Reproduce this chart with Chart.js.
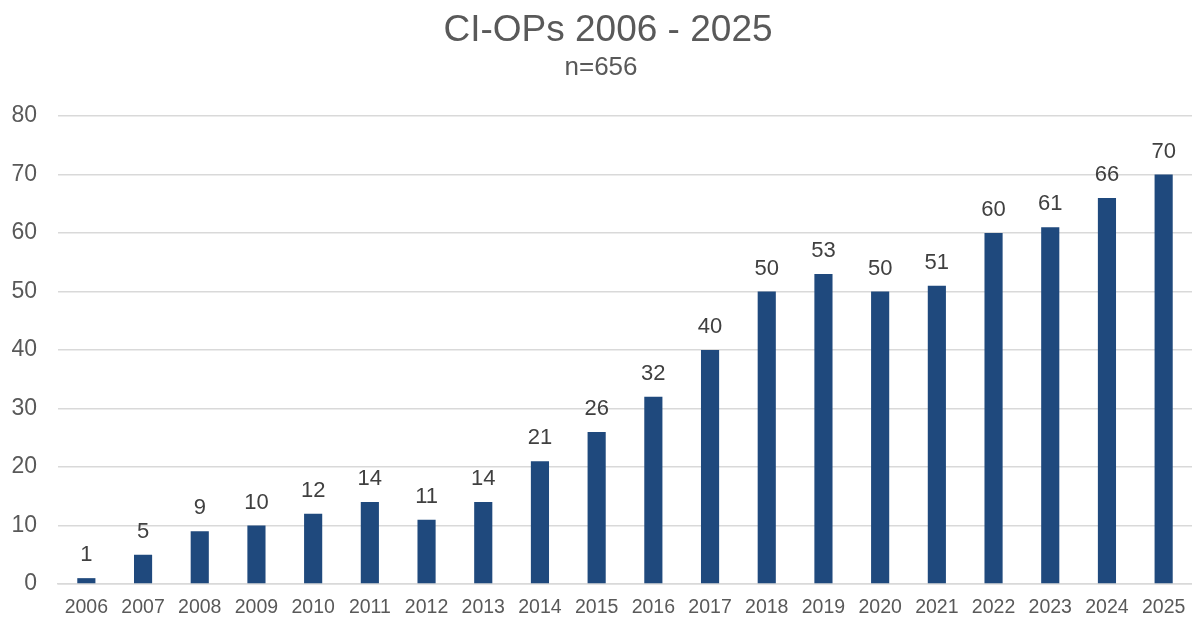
<!DOCTYPE html>
<html>
<head>
<meta charset="utf-8">
<script src="https://cdn.jsdelivr.net/npm/chart.js@4"></script>
<style>
  html, body { margin: 0; padding: 0; background: #fff; }
  #wrap { width: 1192px; height: 617px; }
</style>
</head>
<body>
<div id="wrap"><canvas id="chart"></canvas></div>
<script>
// Daten
var years = ['2006','2007','2008','2009','2010','2011','2012','2013','2014','2015',
             '2016','2017','2018','2019','2020','2021','2022','2023','2024','2025'];
var ops = [1, 5, 9, 10, 12, 14, 11, 14, 21, 26, 32, 40, 50, 53, 50, 51, 60, 61, 66, 70];
var yTicks = [0, 10, 20, 30, 40, 50, 60, 70, 80];
var titleText = 'CI-OPs 2006 - 2025';
var subtitleText = 'n=656';

var fontName = 'Arial, "Liberation Sans", sans-serif';

// Titel und Untertitel
var titles = {
  id: 'titles',
  afterDraw: function(chart) {
    var ctx = chart.ctx;
    ctx.save();
    ctx.fillStyle = '#595959';
    ctx.textAlign = 'center';
    ctx.textBaseline = 'alphabetic';
    ctx.font = '37px ' + fontName;
    ctx.fillText(titleText, 608, 41);
    ctx.font = '26px ' + fontName;
    ctx.fillText(subtitleText, 601, 75);
    ctx.restore();
  }
};

// Werte ueber den Balken
var valueLabels = {
  id: 'valueLabels',
  afterDatasetsDraw: function(chart) {
    var ctx = chart.ctx;
    var meta = chart.getDatasetMeta(0);
    ctx.save();
    ctx.font = '22px ' + fontName;
    ctx.fillStyle = '#404040';
    ctx.textAlign = 'center';
    ctx.textBaseline = 'alphabetic';
    meta.data.forEach(function(bar, i) {
      ctx.fillText(String(ops[i]), bar.x, bar.y - 17);
    });
    ctx.restore();
  }
};

// keine Extra-Abstaende fuer ueberstehende Beschriftungen
function noPadding(scale) {
  scale.paddingTop = 0;
  scale.paddingBottom = 0;
  scale.paddingLeft = 0;
  scale.paddingRight = 0;
}

var ctx = document.getElementById('chart').getContext('2d');
var chart = new Chart(ctx, {
  type: 'bar',
  data: {
    labels: years,
    datasets: [{
      label: 'CI-OPs',
      data: ops,
      backgroundColor: '#1f497d',
      barPercentage: 0.32,
      categoryPercentage: 1.0
    }]
  },
  options: {
    responsive: true,
    maintainAspectRatio: false,
    animation: false,
    layout: { padding: { left: 0, right: 0, top: 116, bottom: 0 } },
    plugins: {
      legend: { display: false },
      tooltip: { enabled: false },
      title: { display: false },
      subtitle: { display: false }
    },
    scales: {
      x: {
        grid: { display: false, drawTicks: false },
        border: { display: true, color: '#d9d9d9', width: 1.5 },
        ticks: {
          color: '#595959',
          font: { family: fontName, size: 19.5 },
          padding: 12,
          maxRotation: 0,
          autoSkip: false
        },
        afterFit: function(scale) {
          scale.height = 33;
          noPadding(scale);
        }
      },
      y: {
        min: 0,
        max: 80,
        afterBuildTicks: function(scale) {
          scale.ticks = yTicks.map(function(v) { return { value: v }; });
        },
        grid: { color: '#d9d9d9', lineWidth: 1.5, drawTicks: false },
        border: { display: false },
        ticks: {
          color: '#595959',
          font: { family: fontName, size: 23 },
          padding: 21
        },
        afterFit: function(scale) {
          scale.width = 58;
          noPadding(scale);
        }
      }
    }
  },
  plugins: [valueLabels, titles]
});
</script>
</body>
</html>
